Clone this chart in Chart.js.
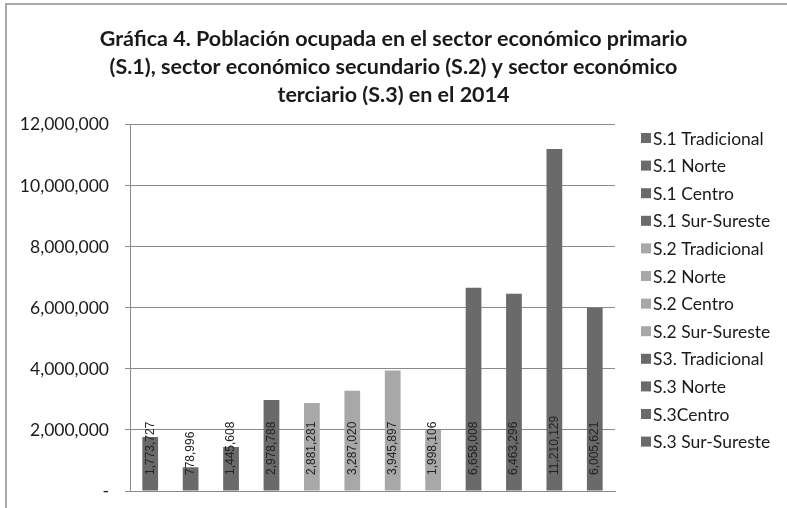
<!DOCTYPE html>
<html>
<head>
<meta charset="utf-8">
<script src="https://cdn.jsdelivr.net/npm/chart.js@4.4.1/dist/chart.umd.min.js"></script>
<style>
html,body{margin:0;padding:0;background:#fff;}
#wrap{position:absolute;left:0;top:0;width:787px;height:508px;}
</style>
</head>
<body>
<div id="wrap"><canvas id="c" width="787" height="508"></canvas></div>
<script>
const titleLines = [
  'Gráfica 4. Población ocupada en el sector económico primario',
  '(S.1), sector económico secundario (S.2) y sector económico',
  'terciario (S.3) en el 2014'
];
const categories = [
  'S.1 Tradicional','S.1 Norte','S.1 Centro','S.1 Sur-Sureste',
  'S.2 Tradicional','S.2 Norte','S.2 Centro','S.2 Sur-Sureste',
  'S3. Tradicional','S.3 Norte','S.3Centro','S.3 Sur-Sureste'
];
const values = [1773727, 778996, 1445608, 2978788, 2881281, 3287020, 3945897, 1998106, 6658008, 6463296, 11210129, 6005621];
const sectors = ['S1','S1','S1','S1','S2','S2','S2','S2','S3','S3','S3','S3'];
const yTicks = [0, 2000000, 4000000, 6000000, 8000000, 10000000, 12000000];

const sectorColor = {S1:'#6a6a6a', S2:'#a8a8a8', S3:'#6a6a6a'};
const barColors = sectors.map(s => sectorColor[s]);
const FONT = 'Lato, "Open Sans", "Liberation Sans", sans-serif';
const fmt = v => v.toLocaleString('en-US');

const framePlugin = {
  id: 'frame',
  beforeDraw(chart) {
    const ctx = chart.ctx;
    ctx.save();
    ctx.fillStyle = '#fff';
    ctx.fillRect(0, 0, chart.width, chart.height);
    ctx.strokeStyle = '#a8a8a8';
    ctx.lineWidth = 2;
    ctx.beginPath();
    ctx.moveTo(6, 600);
    ctx.lineTo(6, 4);
    ctx.lineTo(800, 4);
    ctx.stroke();
    ctx.restore();
  }
};

const labelPlugin = {
  id: 'barLabels',
  afterDatasetsDraw(chart) {
    const ctx = chart.ctx;
    const meta = chart.getDatasetMeta(0);
    const base = chart.scales.y.getPixelForValue(0);
    ctx.save();
    ctx.font = '12px "Liberation Sans", Arial, sans-serif';
    ctx.fillStyle = '#222';
    ctx.textAlign = 'left';
    ctx.textBaseline = 'middle';
    meta.data.forEach((bar, i) => {
      ctx.save();
      ctx.translate(bar.x, base - 16);
      ctx.rotate(-Math.PI / 2);
      ctx.fillText(fmt(values[i]), 0, 0);
      ctx.restore();
    });
    ctx.restore();
  }
};

const legendPlugin = {
  id: 'sideLegend',
  afterDraw(chart) {
    const ctx = chart.ctx;
    ctx.save();
    ctx.font = '17.5px ' + FONT;
    ctx.textBaseline = 'middle';
    ctx.textAlign = 'left';
    const x0 = 641, y0 = 138, step = 27.6;
    categories.forEach((name, i) => {
      const y = y0 + i * step;
      ctx.fillStyle = barColors[i];
      ctx.fillRect(x0, y - 5, 10, 10);
      ctx.fillStyle = '#1a1a1a';
      ctx.fillText(name, x0 + 12, y + 1);
    });
    ctx.restore();
  }
};

new Chart(document.getElementById('c'), {
  type: 'bar',
  data: {
    labels: categories,
    datasets: [{
      label: 'Población ocupada',
      data: values,
      backgroundColor: barColors,
      borderWidth: 0,
      categoryPercentage: 1,
      barPercentage: 0.39
    }]
  },
  options: {
    responsive: false,
    animation: false,
    devicePixelRatio: 1,
    layout: { padding: { left: 0, right: 0, top: 0, bottom: 17 } },
    plugins: {
      legend: { display: false },
      tooltip: { enabled: false },
      title: {
        display: true,
        text: titleLines,
        color: '#1a1a1a',
        font: { family: FONT, size: 21.5, weight: 'bold', lineHeight: 1.3 },
        padding: { top: 25, bottom: 16 }
      }
    },
    scales: {
      x: {
        ticks: { display: false },
        grid: { display: false, drawTicks: false },
        border: { display: true, color: '#8a8a8a', width: 1 },
        afterFit(s) { s.height = 0; s.paddingLeft = 0; s.paddingRight = 0; }
      },
      y: {
        min: 0,
        max: 12000000,
        afterBuildTicks(s) { s.ticks = yTicks.map(v => ({ value: v })); },
        ticks: {
          callback: v => v === 0 ? '-' : fmt(v),
          color: '#1a1a1a',
          font: { family: FONT, size: 17.5 },
          padding: 16
        },
        grid: { color: '#8a8a8a', lineWidth: 1, tickLength: 5 },
        border: { display: true, color: '#8a8a8a', width: 1 },
        afterFit(s) { s.width = 130; s.paddingTop = 0; s.paddingBottom = 0; }
      },
      legendSpace: {
        type: 'linear',
        position: 'right',
        display: true,
        ticks: { display: false },
        grid: { display: false, drawTicks: false },
        border: { display: false },
        afterFit(s) { s.width = 172; s.paddingTop = 0; s.paddingBottom = 0; }
      }
    }
  },
  plugins: [framePlugin, labelPlugin, legendPlugin]
});
</script>
</body>
</html>
